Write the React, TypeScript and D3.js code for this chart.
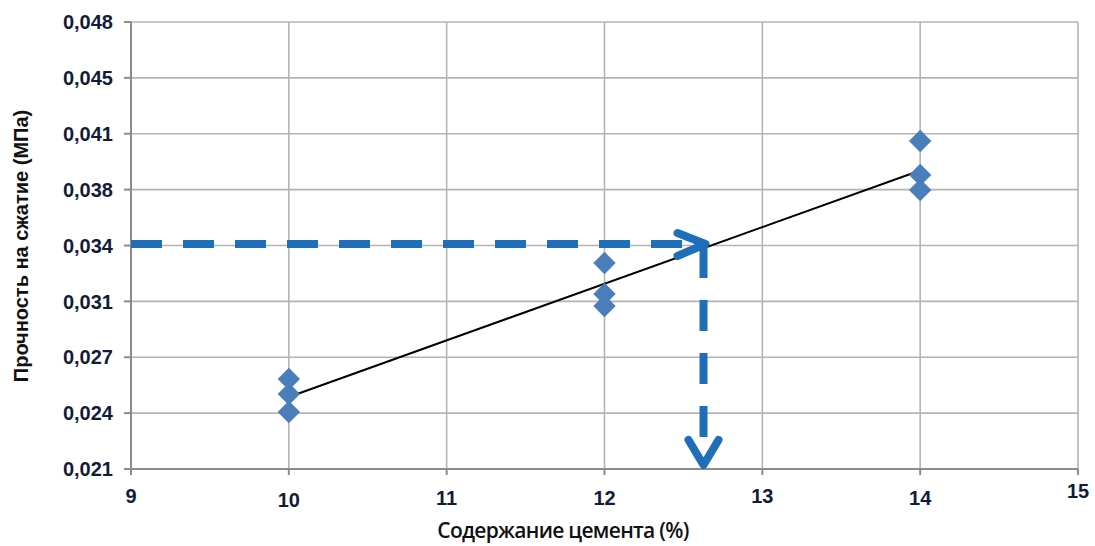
import React from "react";
import * as d3 from "d3";

// ---- data ----
const cement10 = [0.02611, 0.02519, 0.02409];
const cement12 = [0.03321, 0.03131, 0.03058];
const cement14 = [0.04068, 0.0386, 0.03768];
const cementLevels = [10, 12, 14];
const xTicks = [9, 10, 11, 12, 13, 14, 15];
const yTickLabels = ["0,021", "0,024", "0,027", "0,031", "0,034", "0,038", "0,041", "0,045", "0,048"];
const yMin = 0.0206;
const yStep = 0.00342;
const targetStrength = 0.03437;
const targetCement = 12.64;
const xTitle = "Содержание цемента (%)";
const yTitle = "Прочность на сжатие (МПа)";

const W = 1095;
const H = 546;
const M = { left: 131, right: 1078, top: 22, bottom: 469 };
const xLabelDy = [-2, 2, 0, 0, -2, 0, -7];

export default function App() {
  const x = d3.scaleLinear().domain([9, 15]).range([M.left, M.right]);
  const yMax = yMin + yStep * (yTickLabels.length - 1);
  const y = d3.scaleLinear().domain([yMin, yMax]).range([M.bottom, M.top]);
  const yTickValues = yTickLabels.map((_, i) => yMin + i * yStep);

  const groups = [cement10, cement12, cement14];
  const points = groups.flatMap((vals, gi) => vals.map((v) => ({ cx: cementLevels[gi], v })));

  // linear regression
  const mx = d3.mean(points, (p) => p.cx)!;
  const my = d3.mean(points, (p) => p.v)!;
  const sxy = d3.sum(points, (p) => (p.cx - mx) * (p.v - my));
  const sxx = d3.sum(points, (p) => (p.cx - mx) ** 2);
  const slope = sxy / sxx;
  const intercept = my - slope * mx;
  const fit = (c: number) => intercept + slope * c;

  const lineGen = d3.line<[number, number]>().x((d) => x(d[0])).y((d) => y(d[1]));
  const fitPath = lineGen([
    [10, fit(10)],
    [14, fit(14)],
  ]);

  const diamond = d3.symbol().type(d3.symbolDiamond2).size(320)();

  const tx = x(targetCement);
  const ty = y(targetStrength);
  const blue = "#1F6EBA";
  const gridColor = "#b4b4b4";
  const axisColor = "#8c8c8c";
  const labelColor = "#121c3a";

  return (
    <svg
      width={W}
      height={H}
      style={{ position: "absolute", left: 0, top: 0, background: "#fff" }}
      fontFamily="'Liberation Sans', Arial, sans-serif"
    >
      {/* grid */}
      {yTickValues.map((v, i) => (
        <line key={"gy" + i} x1={M.left} x2={M.right} y1={y(v)} y2={y(v)} stroke={gridColor} strokeWidth={1.6} />
      ))}
      {xTicks.map((t) => (
        <line key={"gx" + t} x1={x(t)} x2={x(t)} y1={M.top} y2={M.bottom} stroke={gridColor} strokeWidth={1.6} />
      ))}
      {/* axes */}
      <line x1={M.left} x2={M.left} y1={M.top} y2={M.bottom + 6} stroke={axisColor} strokeWidth={2} />
      <line x1={M.left - 7} x2={M.right} y1={M.bottom} y2={M.bottom} stroke={axisColor} strokeWidth={2} />
      {yTickValues.map((v, i) => (
        <line key={"ty" + i} x1={M.left - 7} x2={M.left} y1={y(v)} y2={y(v)} stroke={axisColor} strokeWidth={2} />
      ))}
      {xTicks.map((t) => (
        <line key={"tx" + t} x1={x(t)} x2={x(t)} y1={M.bottom} y2={M.bottom + 6} stroke={axisColor} strokeWidth={2} />
      ))}
      {/* tick labels */}
      {yTickValues.map((v, i) => (
        <text
          key={"ly" + i}
          x={M.left - 18}
          y={y(v)}
          dy="0.36em"
          textAnchor="end"
          fontSize={20}
          fontWeight="bold"
          fill={labelColor}
        >
          {yTickLabels[i]}
        </text>
      ))}
      {xTicks.map((t, i) => (
        <text
          key={"lx" + t}
          x={x(t)}
          y={505 + xLabelDy[i]}
          textAnchor="middle"
          fontSize={20}
          fontWeight="bold"
          fill={labelColor}
        >
          {t}
        </text>
      ))}
      {/* titles */}
      <text x={563} y={538} textAnchor="middle" fontSize={21} fontWeight={600} fill="#111" fontFamily="'Open Sans', sans-serif" letterSpacing={-0.7}>
        {xTitle}
      </text>
      <text
        transform={`translate(28,${246}) rotate(-90)`}
        textAnchor="middle"
        fontSize={20}
        fontWeight="bold"
        fill="#111"
      >
        {yTitle}
      </text>
      {/* trend line */}
      <path d={fitPath || ""} fill="none" stroke="#000" strokeWidth={2} />
      {/* points */}
      {points.map((p, i) => (
        <path key={"p" + i} d={diamond || ""} transform={`translate(${x(p.cx)},${y(p.v)})`} fill="#4A7EBB" />
      ))}
      {/* annotation arrows */}
      <line x1={M.left} x2={tx - 6} y1={ty} y2={ty} stroke={blue} strokeWidth={8} strokeDasharray="31 21" />
      <polyline
        points={`${tx - 28},${ty - 11} ${tx},${ty} ${tx - 28},${ty + 12}`}
        fill="none"
        stroke={blue}
        strokeWidth={8}
        strokeLinecap="round"
        strokeLinejoin="round"
      />
      <line x1={tx - 2} x2={tx - 2} y1={ty + 3} y2={M.bottom - 8} stroke={blue} strokeWidth={8} strokeDasharray="31 22" />
      <polyline
        points={`${tx - 17},${M.bottom - 29} ${tx - 2},${M.bottom - 4} ${tx + 13},${M.bottom - 29}`}
        fill="none"
        stroke={blue}
        strokeWidth={8}
        strokeLinecap="round"
        strokeLinejoin="round"
      />
    </svg>
  );
}
